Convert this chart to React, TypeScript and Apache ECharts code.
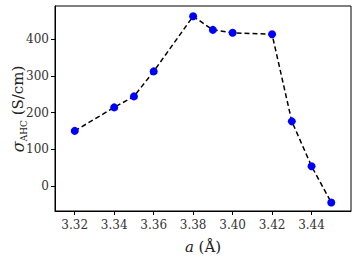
import React, { useEffect, useRef } from "react";
import * as echarts from "echarts";

const latticeA = [3.32, 3.34, 3.35, 3.36, 3.38, 3.39, 3.40, 3.42, 3.43, 3.44, 3.45];
const sigmaAHC = [150, 214, 244, 312, 462, 425, 417, 413, 176, 54, -45];
const xTicks = [3.32, 3.34, 3.36, 3.38, 3.40, 3.42, 3.44];
const yTicks = [0, 100, 200, 300, 400];
const xName = "{i|a} (Å)";
const yName = "{i|σ}{sub|AHC}{n| (S/cm)}";

const FONT = "DejaVu Serif";

export default function App() {
  const ref = useRef<HTMLDivElement>(null);
  useEffect(() => {
    if (!ref.current) return;
    const chart = echarts.init(ref.current, null, { renderer: "svg" });
    chart.setOption({
      animation: false,
      backgroundColor: "#fff",
      textStyle: { fontFamily: FONT },
      grid: {
        left: 55,
        right: 6,
        top: 6,
        bottom: 51,
        containLabel: false,
        outerBoundsMode: "none",
        show: true,
        borderColor: "#000",
        borderWidth: 1,
        backgroundColor: "transparent",
      },
      graphic: [
        {
          type: "text",
          x: 18,
          y: 109,
          rotation: Math.PI / 2,
          style: {
            text: yName,
            align: "center",
            verticalAlign: "middle",
            fill: "#222",
            font: `15px ${FONT}`,
            rich: {
              i: { fontFamily: FONT, fontSize: 16, fontStyle: "italic", fill: "#222", lineHeight: 20, verticalAlign: "middle" },
              sub: { fontFamily: FONT, fontSize: 9, fill: "#222", lineHeight: 20, verticalAlign: "bottom" },
              n: { fontFamily: FONT, fontSize: 15, fill: "#222", lineHeight: 20, verticalAlign: "middle" },
            },
          },
        },
      ],
      xAxis: {
        type: "value",
        min: 3.31,
        max: 3.46,
        axisLine: { show: true, onZero: false, lineStyle: { color: "#000", width: 1 } },
        axisTick: {
          show: true,
          length: 4,
          customValues: xTicks,
          lineStyle: { color: "#000" },
        },
        axisLabel: {
          customValues: xTicks,
          formatter: (v: number) => v.toFixed(2),
          color: "#333",
          fontFamily: FONT,
          fontSize: 12,
          margin: 8,
        },
        splitLine: { show: false },
        name: xName,
        nameLocation: "middle",
        nameGap: 28,
        nameTextStyle: {
          color: "#222",
          fontFamily: FONT,
          fontSize: 15,
          rich: {
            i: { fontFamily: FONT, fontSize: 15, fontStyle: "italic", color: "#222" },
          },
        },
      },
      yAxis: {
        type: "value",
        min: -68,
        max: 490,
        axisLine: { show: true, onZero: false, lineStyle: { color: "#000", width: 1 } },
        axisTick: {
          show: true,
          length: 4,
          customValues: yTicks,
          lineStyle: { color: "#000" },
        },
        axisLabel: {
          customValues: yTicks,
          color: "#333",
          fontFamily: FONT,
          fontSize: 12,
          margin: 6,
        },
        splitLine: { show: false },
      },
      series: [
        {
          type: "line",
          data: latticeA.map((x, i) => [x, sigmaAHC[i]]),
          symbol: "circle",
          symbolSize: 8,
          itemStyle: { color: "#0000ff" },
          lineStyle: { color: "#000", width: 1.5, type: [5, 3] },
          z: 3,
        },
      ],
    });
    return () => chart.dispose();
  }, []);
  return (
    <div
      ref={ref}
      style={{ position: "fixed", left: 0, top: 0, width: 357, height: 262 }}
    />
  );
}
